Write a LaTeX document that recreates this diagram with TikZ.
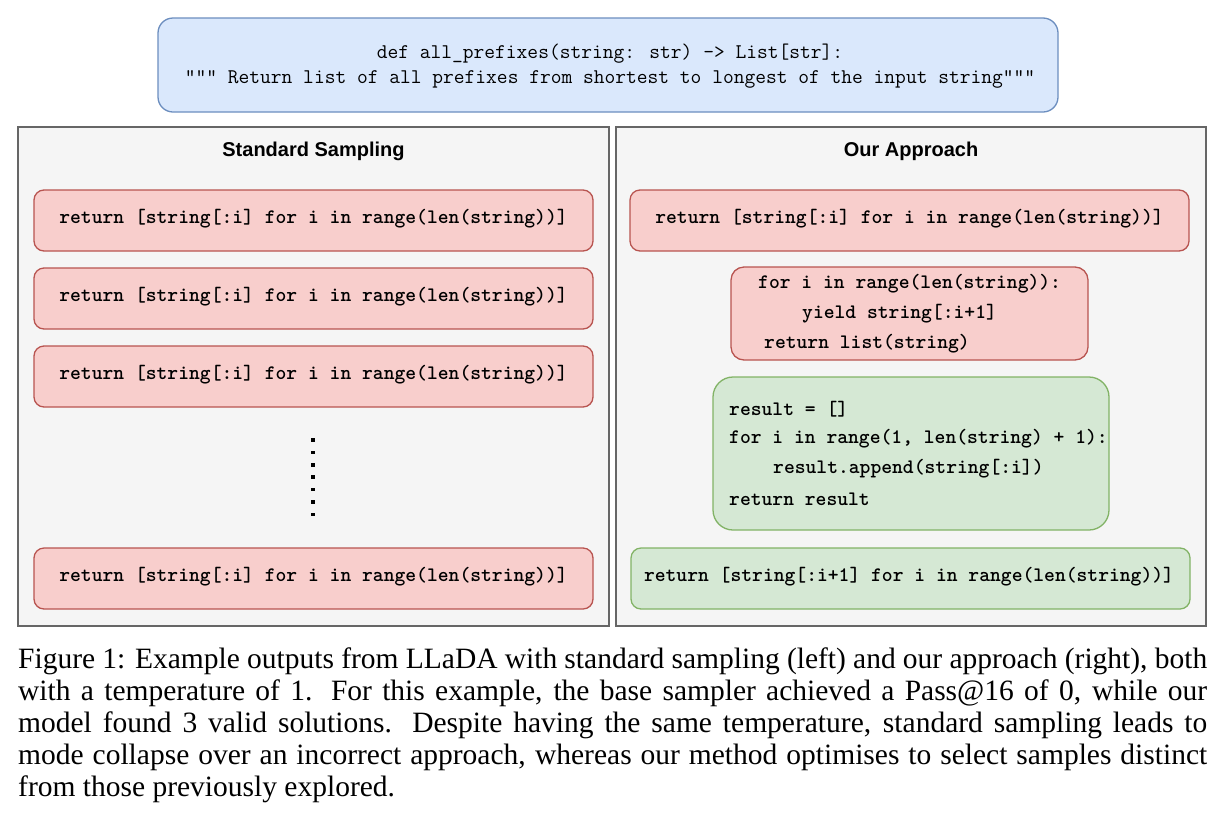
\documentclass[tikz,border=0pt]{standalone}
\usepackage{fontspec}
\newfontfamily\capfont{Liberation Serif}
\newfontfamily\headfont{Liberation Sans}
\definecolor{bluefill}{HTML}{DAE8FC}
\definecolor{bluedraw}{HTML}{6C8EBF}
\definecolor{redfill}{HTML}{F8CECC}
\definecolor{reddraw}{HTML}{B85450}
\definecolor{greenfill}{HTML}{D5E8D4}
\definecolor{greendraw}{HTML}{82B366}
\definecolor{panelfill}{HTML}{F5F5F5}
\definecolor{paneldraw}{HTML}{666666}
\newcommand{\topfnt}{\fontfamily{lmtt}\fontseries{m}\fontsize{20.9}{25}\selectfont}
\newcommand{\codefnt}{\fontfamily{lmtt}\fontseries{b}\fontsize{20.6}{24}\selectfont}
\begin{document}
\begin{tikzpicture}[x=1pt,y=-1pt,
  panel/.style={draw=paneldraw,fill=panelfill,line width=1.3pt,minimum width=#1,minimum height=499pt,inner sep=0pt},
  redbox/.style={draw=reddraw,fill=redfill,line width=1.3pt,rounded corners=10pt,inner sep=0pt},
  greenbox/.style={draw=greendraw,fill=greenfill,line width=1.3pt,rounded corners=14pt,inner sep=0pt},
  code/.style={font=\codefnt,inner sep=0pt},
  codeline/.style={font=\codefnt,inner sep=0pt,anchor=west},
  heading/.style={font=\headfont\bfseries\fontsize{20}{24}\selectfont,inner sep=0pt},
  dot/.style={rectangle,fill=black,inner sep=0pt,minimum size=3.6pt}
]
\useasboundingbox (0,0) rectangle (1222,828);
% top prompt box
\node[draw=bluedraw,fill=bluefill,line width=1.3pt,rounded corners=15pt,minimum width=900pt,minimum height=94pt] (prompt) at (608,65) {};
\node[font=\topfnt,inner sep=0pt] (p1) at (610,54) {def all\_prefixes(string: str) -> List[str]:};
\node[font=\topfnt,inner sep=0pt] (p2) at (610,79) {"{}"{}" Return list of all prefixes from shortest to longest of the input string"{}"{}"};
% panels
\node[panel=591pt] (left) at (313.5,376.5) {};
\node[panel=590pt] (right) at (911,376.5) {};
\node[heading] (lt) at (313.5,151) {Standard Sampling};
\node[heading] (rt) at (911,151) {Our Approach};
% left boxes
\foreach \yy/\nm in {220.5/l1,298.5/l2,376.5/l3,578.5/l4}{
  \node[redbox,minimum width=559pt,minimum height=61pt] (\nm) at (313.5,\yy) {};
  \node[code] (\nm t) at (313.5,\yy-1.5) {return [string[:i] for i in range(len(string))]};
}
% dots
\foreach \k in {0,...,6}{
  \node[dot] (d\k) at (313,440+\k*12.4) {};
}
% right boxes
\node[redbox,minimum width=559pt,minimum height=61pt] (r1) at (909.5,220.5) {};
\node[code] (r1t) at (909.5,219) {return [string[:i] for i in range(len(string))]};
\node[redbox,rounded corners=13pt,minimum width=357pt,minimum height=93pt] (r2) at (909.5,313.5) {};
\node[codeline] (r2a) at (758,284) {for i in range(len(string)):};
\node[codeline] (r2b) at (802,314) {yield string[:i+1]};
\node[codeline] (r2c) at (764,344) {return list(string)};
\node[greenbox,rounded corners=20pt,minimum width=396pt,minimum height=153pt] (g1) at (911,453.5) {};
\node[codeline] (g1a) at (729,409) {result = []};
\node[codeline] (g1b) at (729,439) {for i in range(1, len(string) + 1):};
\node[codeline] (g1c) at (773,469) {result.append(string[:i])};
\node[codeline] (g1d) at (729,499) {return result};
\node[greenbox,rounded corners=10pt,minimum width=559pt,minimum height=61pt] (g2) at (910.5,578.5) {};
\node[code] (g2t) at (909,577) {return [string[:i+1] for i in range(len(string))]};
% caption
\node[anchor=north west,inner sep=0pt,text width=1189pt,align=justify,font=\capfont\fontsize{29.5}{32}\selectfont] (cap) at (18,648) {Figure 1: Example outputs from LLaDA with standard sampling (left) and our approach (right), both\linebreak with a temperature of 1. For this example, the base sampler achieved a Pass@16 of 0, while our\linebreak model found 3 valid solutions. Despite having the same temperature, standard sampling leads to\linebreak mode collapse over an incorrect approach, whereas our method optimises to select samples distinct\linebreak from those previously explored.};
\end{tikzpicture}
\end{document}
